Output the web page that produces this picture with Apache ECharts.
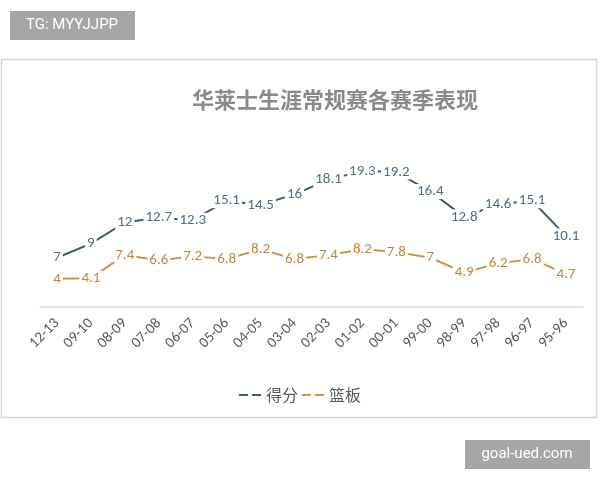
<!DOCTYPE html>
<html>
<head>
<meta charset="utf-8">
<script src="https://cdn.jsdelivr.net/npm/echarts@6/dist/echarts.min.js"></script>
<style>
  html, body { margin: 0; padding: 0; background: #fff; }
  #main { width: 600px; height: 480px; }
</style>
</head>
<body>
<div id="main"></div>
<script>
// 赛季
var seasons = ['12-13', '09-10', '08-09', '07-08', '06-07', '05-06', '04-05', '03-04',
               '02-03', '01-02', '00-01', '99-00', '98-99', '97-98', '96-97', '95-96'];
// 得分
var points = [7, 9, 12, 12.7, 12.3, 15.1, 14.5, 16, 18.1, 19.3, 19.2, 16.4, 12.8, 14.6, 15.1, 10.1];
// 篮板
var rebounds = [4, 4.1, 7.4, 6.6, 7.2, 6.8, 8.2, 6.8, 7.4, 8.2, 7.8, 7, 4.9, 6.2, 6.8, 4.7];

var cnFont = '"Noto Sans CJK SC", sans-serif';
var dashIcon = 'path://M0,0h9v2h-9z M13,0h9v2h-9z';
var blueLine = '#3f5c6b', orangeLine = '#d4914c';

function mkSeries(name, data, lineColor, labelColor) {
    return {
        name: name,
        type: 'line',
        data: data,
        symbol: 'circle',
        symbolSize: 2,
        showSymbol: true,
        lineStyle: { color: lineColor, width: 2 },
        itemStyle: { color: 'rgba(255,255,255,0)', borderWidth: 0 },
        z: 2,
        label: {
            show: true,
            position: 'inside',
            color: labelColor,
            fontSize: 15,
            fontFamily: 'Calibri, "Liberation Sans", sans-serif',
            backgroundColor: '#fff',
            padding: [0, 2]
        }
    };
}

var chart = echarts.init(document.getElementById('main'));
chart.setOption({
    animation: false,
    title: {
        text: '华莱士生涯常规赛各赛季表现',
        left: 330,
        textAlign: 'center',
        top: 84,
        textStyle: { fontSize: 22, fontWeight: 'bold', color: '#8a8a8a', fontFamily: cnFont }
    },
    legend: {
        bottom: 72,
        left: 'center',
        itemWidth: 22,
        itemHeight: 2,
        itemGap: 4,
        icon: dashIcon,
        textStyle: { fontSize: 16, color: '#595959', fontFamily: cnFont },
        data: [
            { name: '得分', itemStyle: { color: blueLine } },
            { name: '篮板', itemStyle: { color: orangeLine } }
        ]
    },
    grid: { left: 40, right: 17, top: 131, bottom: 173 },
    xAxis: {
        type: 'category',
        data: seasons,
        axisLine: { lineStyle: { color: '#d9d9d9', width: 1.5 } },
        axisTick: { show: false },
        axisLabel: {
            interval: 0,
            rotate: 45,
            margin: 14,
            fontSize: 15,
            color: '#595959',
            fontFamily: 'Calibri, "Liberation Sans", sans-serif'
        }
    },
    yAxis: {
        type: 'value',
        min: 0,
        max: 25,
        show: false,
        splitLine: { show: false }
    },
    series: [
        mkSeries('得分', points, blueLine, '#50707f'),
        mkSeries('篮板', rebounds, orangeLine, '#c7823f')
    ],
    graphic: [
        { type: 'rect', shape: { x: 1.5, y: 59.5, width: 595, height: 358 }, style: { fill: null, stroke: '#d6d6d6', lineWidth: 1.5 }, z: -1 },
        { type: 'rect', shape: { x: 10, y: 11, width: 125, height: 29 }, style: { fill: '#a6a6a6' } },
        { type: 'text', x: 72, y: 25.5, style: { text: 'TG: MYYJJPP', fill: '#fff', fontSize: 15, fontFamily: 'Roboto, sans-serif', align: 'center', verticalAlign: 'middle' } },
        { type: 'rect', shape: { x: 465, y: 440, width: 125, height: 29 }, style: { fill: '#a6a6a6' } },
        { type: 'text', x: 527, y: 454.5, style: { text: 'goal-ued.com', fill: '#fff', fontSize: 15, fontFamily: 'Roboto, sans-serif', align: 'center', verticalAlign: 'middle' } }
    ]
});
</script>
</body>
</html>
